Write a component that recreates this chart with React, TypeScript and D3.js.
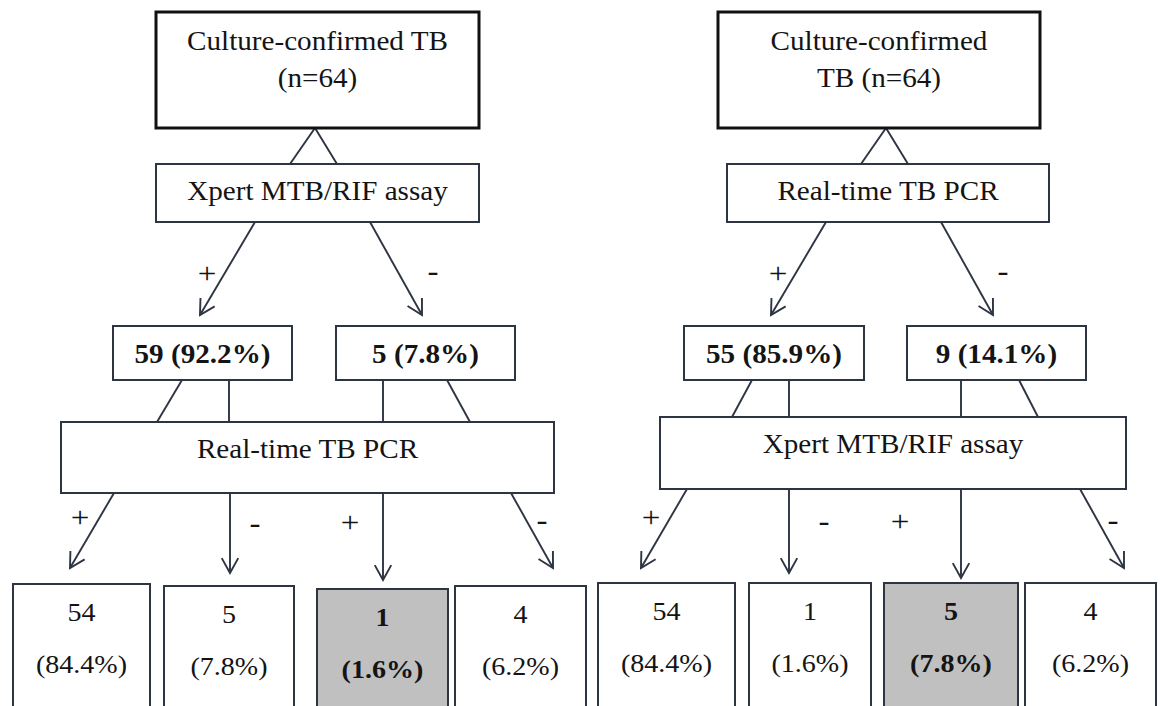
import React from "react";
import * as d3 from "d3";

// ---------- data ----------
const panelTitles: string[][] = [
  ["Culture-confirmed TB", "(n=64)"],
  ["Culture-confirmed", "TB (n=64)"],
];
const firstTests = ["Xpert MTB/RIF assay", "Real-time TB PCR"];
const secondTests = ["Real-time TB PCR", "Xpert MTB/RIF assay"];
const firstSplitCounts = [
  [59, 5],
  [55, 9],
];
const firstSplitPct = [
  ["92.2%", "7.8%"],
  ["85.9%", "14.1%"],
];
const finalCounts = [
  [54, 5, 1, 4],
  [54, 1, 5, 4],
];
const finalPct = [
  ["84.4%", "7.8%", "1.6%", "6.2%"],
  ["84.4%", "1.6%", "7.8%", "6.2%"],
];
const highlighted = [2, 2];
const signs = ["+", "-", "+", "-"];

// ---------- layout ----------
type Box = { x0: number; x1: number; y0: number; y1: number };
type Seg = [number, number, number, number];
type Pt = [number, number];

const layouts = [
  {
    top: { x0: 156, x1: 479, y0: 12, y1: 128 },
    apex: [315, 128] as Pt,
    apexFeet: [290, 337],
    test1: { x0: 156, x1: 479, y0: 164, y1: 222 },
    arrows1: [
      [255, 222, 200, 315],
      [370, 222, 422, 315],
    ] as Seg[],
    labels1: [
      [207, 273],
      [433, 273],
    ] as Pt[],
    split: [
      { x0: 113, x1: 292, y0: 326, y1: 380 },
      { x0: 336, x1: 515, y0: 326, y1: 380 },
    ],
    connectors: [
      [182, 380, 157, 422],
      [229, 380, 229, 422],
      [383, 380, 383, 422],
      [447, 380, 470, 422],
    ] as Seg[],
    test2: { x0: 61, x1: 554, y0: 422, y1: 493 },
    arrows2: [
      [114, 493, 70, 568],
      [230, 493, 230, 573],
      [383, 493, 383, 580],
      [511, 493, 553, 568],
    ] as Seg[],
    labels2: [
      [80, 517],
      [255, 525],
      [350, 522],
      [542, 522],
    ] as Pt[],
    finals: [
      { x0: 13, x1: 150, y0: 584, y1: 730 },
      { x0: 164, x1: 294, y0: 586, y1: 730 },
      { x0: 317, x1: 448, y0: 589, y1: 730 },
      { x0: 455, x1: 586, y0: 586, y1: 730 },
    ],
  },
  {
    top: { x0: 718, x1: 1040, y0: 12, y1: 128 },
    apex: [886, 128] as Pt,
    apexFeet: [861, 908],
    test1: { x0: 727, x1: 1049, y0: 164, y1: 222 },
    arrows1: [
      [826, 222, 771, 315],
      [941, 222, 993, 315],
    ] as Seg[],
    labels1: [
      [778, 273],
      [1003, 273],
    ] as Pt[],
    split: [
      { x0: 684, x1: 864, y0: 326, y1: 380 },
      { x0: 907, x1: 1086, y0: 326, y1: 380 },
    ],
    connectors: [
      [752, 380, 732, 417],
      [789, 380, 789, 417],
      [961, 380, 961, 417],
      [1019, 380, 1038, 417],
    ] as Seg[],
    test2: { x0: 660, x1: 1126, y0: 417, y1: 489 },
    arrows2: [
      [687, 489, 641, 568],
      [789, 489, 789, 573],
      [961, 489, 961, 578],
      [1080, 489, 1124, 568],
    ] as Seg[],
    labels2: [
      [651, 517],
      [824, 523],
      [900, 521],
      [1113, 522],
    ] as Pt[],
    finals: [
      { x0: 598, x1: 735, y0: 583, y1: 730 },
      { x0: 749, x1: 871, y0: 583, y1: 730 },
      { x0: 884, x1: 1018, y0: 583, y1: 730 },
      { x0: 1025, x1: 1156, y0: 583, y1: 730 },
    ],
  },
];

const FONT = "'Liberation Serif', 'Times New Roman', Times, serif";
const LINE = "#2d3442";
const SX = 1.1;

function T({
  x,
  y,
  children,
  size = 26.5,
  bold = false,
}: {
  x: number;
  y: number;
  children: React.ReactNode;
  size?: number;
  bold?: boolean;
}) {
  return (
    <text
      transform={`translate(${x},${y}) scale(${SX},1)`}
      textAnchor="middle"
      fontFamily={FONT}
      fontSize={size}
      fontWeight={bold ? "bold" : "normal"}
      fill="#141414"
    >
      {children}
    </text>
  );
}

function Rect({ b, stroke = LINE, sw = 2, fill = "#ffffff" }: { b: Box; stroke?: string; sw?: number; fill?: string }) {
  return <rect x={b.x0} y={b.y0} width={b.x1 - b.x0} height={b.y1 - b.y0} fill={fill} stroke={stroke} strokeWidth={sw} />;
}

const lineGen = d3.line<Pt>();

function Arrow({ s }: { s: Seg }) {
  const [x0, y0, x1, y1] = s;
  const ang = Math.atan2(y1 - y0, x1 - x0);
  const L = 17;
  const a = (29 * Math.PI) / 180;
  const p1: Pt = [x1 - L * Math.cos(ang - a), y1 - L * Math.sin(ang - a)];
  const p2: Pt = [x1 - L * Math.cos(ang + a), y1 - L * Math.sin(ang + a)];
  return (
    <g fill="none" stroke={LINE} strokeWidth={1.9} strokeLinejoin="miter">
      <path d={lineGen([[x0, y0], [x1, y1]]) || ""} />
      <path d={lineGen([p1, [x1, y1], p2]) || ""} />
    </g>
  );
}

function Sign({ p, s }: { p: Pt; s: string }) {
  if (s === "+") {
    return (
      <T x={p[0]} y={p[1] + 10} size={30}>
        +
      </T>
    );
  }
  return (
    <T x={p[0]} y={p[1] + 8} size={30}>
      -
    </T>
  );
}

function Panel({ i }: { i: number }) {
  const L = layouts[i];
  const cx = (b: Box) => (b.x0 + b.x1) / 2;
  return (
    <g>
      <path
        d={lineGen([[L.apexFeet[0], L.test1.y0], L.apex, [L.apexFeet[1], L.test1.y0]]) || ""}
        fill="none"
        stroke={LINE}
        strokeWidth={1.9}
      />
      <Rect b={L.top} stroke="#111" sw={3} />
      <T x={cx(L.top)} y={L.top.y0 + 38}>{panelTitles[i][0]}</T>
      <T x={cx(L.top)} y={L.top.y0 + 75}>{panelTitles[i][1]}</T>

      <Rect b={L.test1} />
      <T x={cx(L.test1)} y={L.test1.y0 + 36}>{firstTests[i]}</T>

      {L.arrows1.map((s, k) => (
        <Arrow key={k} s={s} />
      ))}
      {L.labels1.map((p, k) => (
        <Sign key={k} p={p} s={signs[k]} />
      ))}

      {L.split.map((b, k) => (
        <g key={k}>
          <Rect b={b} />
          <T x={cx(b)} y={b.y0 + 37} bold>
            {`${firstSplitCounts[i][k]} (${firstSplitPct[i][k]})`}
          </T>
        </g>
      ))}

      {L.connectors.map((s, k) => (
        <path key={k} d={lineGen([[s[0], s[1]], [s[2], s[3]]]) || ""} stroke={LINE} strokeWidth={1.9} fill="none" />
      ))}

      <Rect b={L.test2} />
      <T x={cx(L.test2)} y={L.test2.y0 + 36}>{secondTests[i]}</T>

      {L.arrows2.map((s, k) => (
        <Arrow key={k} s={s} />
      ))}
      {L.labels2.map((p, k) => (
        <Sign key={k} p={p} s={signs[k]} />
      ))}

      {L.finals.map((b, k) => {
        const hl = highlighted[i] === k;
        return (
          <g key={k}>
            <Rect b={b} fill={hl ? "#c0c0c0" : "#ffffff"} />
            <T x={cx(b)} y={b.y0 + 37} size={25.5} bold={hl}>
              {String(finalCounts[i][k])}
            </T>
            <T x={cx(b)} y={b.y0 + 89} size={25.5} bold={hl}>
              {`(${finalPct[i][k]})`}
            </T>
          </g>
        );
      })}
    </g>
  );
}

export default function App() {
  return (
    <svg
      width={1160}
      height={706}
      viewBox="0 0 1160 706"
      style={{ position: "absolute", left: 0, top: 0, background: "#ffffff" }}
    >
      <rect x={0} y={0} width={1160} height={706} fill="#ffffff" />
      <Panel i={0} />
      <Panel i={1} />
    </svg>
  );
}
